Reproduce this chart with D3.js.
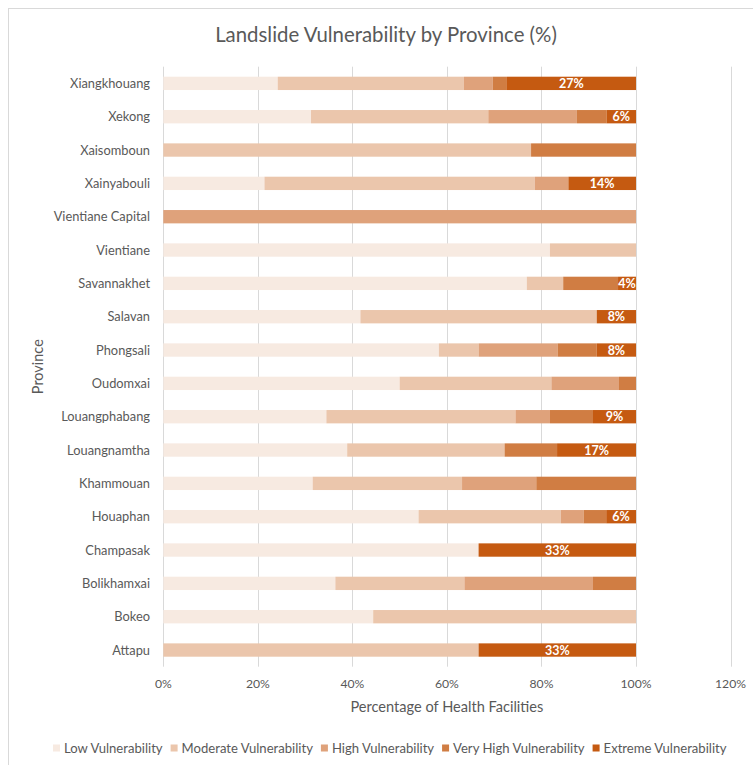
<!DOCTYPE html>
<html>
<head>
<meta charset="utf-8">
<script src="https://cdn.jsdelivr.net/npm/d3@7"></script>
<style>
  html, body { margin: 0; padding: 0; background: #fff; }
  svg { display: block; font-family: "Lato", "Open Sans", sans-serif; }
</style>
</head>
<body>
<svg id="chart" width="753" height="765"></svg>
<script>
const provinces = ["Xiangkhouang", "Xekong", "Xaisomboun", "Xainyabouli", "Vientiane Capital", "Vientiane",
  "Savannakhet", "Salavan", "Phongsali", "Oudomxai", "Louangphabang", "Louangnamtha", "Khammouan",
  "Houaphan", "Champasak", "Bolikhamxai", "Bokeo", "Attapu"];
const seriesNames = ["Low Vulnerability", "Moderate Vulnerability", "High Vulnerability", "Very High Vulnerability", "Extreme Vulnerability"];
const low      = [24.2, 31.25, 0, 21.4, 0, 81.8, 76.9, 41.7, 58.3, 50.0, 34.5, 38.9, 31.6, 54.0, 66.7, 36.4, 44.4, 0];
const moderate = [39.4, 37.5, 77.8, 57.2, 0, 18.2, 7.7, 50.0, 8.4, 32.1, 40.0, 33.3, 31.6, 30.1, 0, 27.3, 55.6, 66.7];
const high     = [6.1, 18.75, 0, 7.1, 100, 0, 0, 0, 16.7, 14.3, 7.3, 0, 15.7, 4.8, 0, 27.2, 0, 0];
const veryHigh = [3.0, 6.25, 22.2, 0, 0, 0, 11.6, 0, 8.3, 3.6, 9.1, 11.1, 21.1, 4.8, 0, 9.1, 0, 0];
const extreme  = [27.3, 6.25, 0, 14.3, 0, 0, 3.8, 8.3, 8.3, 0, 9.1, 16.7, 0, 6.3, 33.3, 0, 0, 33.3];
const xTicks = [0, 20, 40, 60, 80, 100, 120];
const colors = ["#F7EAE1", "#EBC6AC", "#DFA27B", "#D07D43", "#C55A11"];

const svg = d3.select("#chart");
const textColor = "#595959";

// chart frame
svg.append("rect").attr("x", 8.5).attr("y", 8.5).attr("width", 760).attr("height", 770)
  .attr("fill", "#fff").attr("stroke", "#d9d9d9").attr("stroke-width", 1);

const plot = { left: 163.3, top: 66.7, bottom: 666.7 };
const x = d3.scaleLinear().domain([0, 120]).range([plot.left, plot.left + 1.2 * 472.7]);
const y = d3.scaleBand().domain(provinces).range([plot.top, plot.bottom]).paddingInner(0.6).paddingOuter(0.3);

function fit(sel, target) {
  const w = sel.node().getComputedTextLength();
  const fs = parseFloat(sel.attr("font-size"));
  sel.attr("font-size", fs * target / w);
}

// gridlines
svg.append("g").selectAll("line").data(xTicks).join("line")
  .attr("x1", d => Math.round(x(d)) + 0.5).attr("x2", d => Math.round(x(d)) + 0.5)
  .attr("y1", plot.top).attr("y2", plot.bottom)
  .attr("stroke", "#d9d9d9").attr("stroke-width", 1);

// stack
const rows = provinces.map((p, i) => ({ province: p, s0: low[i], s1: moderate[i], s2: high[i], s3: veryHigh[i], s4: extreme[i] }));
const keys = ["s0", "s1", "s2", "s3", "s4"];
const stacked = d3.stack().keys(keys)(rows);

const layers = svg.append("g").selectAll("g").data(stacked).join("g")
  .attr("fill", (d, i) => colors[i]);
layers.selectAll("rect").data(d => d).join("rect")
  .attr("x", d => x(d[0]))
  .attr("width", d => Math.max(0, x(d[1]) - x(d[0])))
  .attr("y", d => y(d.data.province))
  .attr("height", y.bandwidth());

// labels on extreme series
const ext = stacked[4];
svg.append("g").selectAll("text").data(ext.filter(d => d[1] - d[0] > 0)).join("text")
  .attr("x", d => (x(d[0]) + x(d[1])) / 2)
  .attr("y", d => y(d.data.province) + y.bandwidth() / 2)
  .attr("dy", "0.36em")
  .attr("text-anchor", "middle")
  .attr("fill", "#fff").attr("font-weight", "bold").attr("font-size", 12.5)
  .text(d => Math.round(d[1] - d[0]) + "%");

// y axis labels
const yl = svg.append("g").selectAll("text").data(provinces).join("text")
  .attr("x", 150)
  .attr("y", d => y(d) + y.bandwidth() / 2)
  .attr("dy", "0.35em")
  .attr("text-anchor", "end")
  .attr("fill", textColor).attr("font-size", 12)
  .text(d => d);
{
  const first = yl.filter(d => d === "Xiangkhouang");
  const w = first.node().getComputedTextLength();
  yl.attr("font-size", 12 * 80 / w);
}

// x tick labels
const xl = svg.append("g").selectAll("text").data(xTicks).join("text")
  .attr("x", d => x(d))
  .attr("y", 684)
  .attr("dy", "0.35em")
  .attr("text-anchor", "middle")
  .attr("fill", textColor).attr("font-size", 12)
  .text(d => d + "%");
{
  const hundred = xl.filter(d => d === 100);
  const w = hundred.node().getComputedTextLength();
  xl.attr("font-size", 12 * 31 / w);
}

// axis titles
const xt = svg.append("text")
  .attr("x", (x(0) + x(120)) / 2).attr("y", 707).attr("dy", "0.35em")
  .attr("text-anchor", "middle").attr("fill", textColor).attr("font-size", 13)
  .text("Percentage of Health Facilities");
fit(xt, 193);

const yt = svg.append("text")
  .attr("transform", `translate(38,${(plot.top + plot.bottom) / 2}) rotate(-90)`)
  .attr("dy", "0.35em")
  .attr("text-anchor", "middle").attr("fill", textColor).attr("font-size", 13)
  .text("Province");
fit(yt, 55);

// title
const title = svg.append("text")
  .attr("x", 386).attr("y", 35).attr("dy", "0.35em")
  .attr("text-anchor", "middle").attr("fill", textColor).attr("font-size", 19)
  .text("Landslide Vulnerability by Province (%)");
fit(title, 342);

// legend
const legend = svg.append("g");
const items = legend.selectAll("g").data(seriesNames).join("g");
items.append("rect").attr("width", 7).attr("height", 7).attr("fill", (d, i) => colors[i]);
const lt = items.append("text").attr("x", 11).attr("y", 3.5).attr("dy", "0.35em")
  .attr("fill", textColor).attr("font-size", 12).text(d => d);
{
  const gap = 8;
  let widths = lt.nodes().map(n => n.getComputedTextLength());
  const scale = (727 - 53 - seriesNames.length * 11 - (seriesNames.length - 1) * gap) / d3.sum(widths);
  lt.attr("font-size", 12 * scale);
  widths = lt.nodes().map(n => n.getComputedTextLength());
  let cx = 53;
  items.each(function (d, i) {
    d3.select(this).attr("transform", `translate(${cx},${748 - 3.5})`);
    cx += 11 + widths[i] + gap;
  });
}
</script>
</body>
</html>
